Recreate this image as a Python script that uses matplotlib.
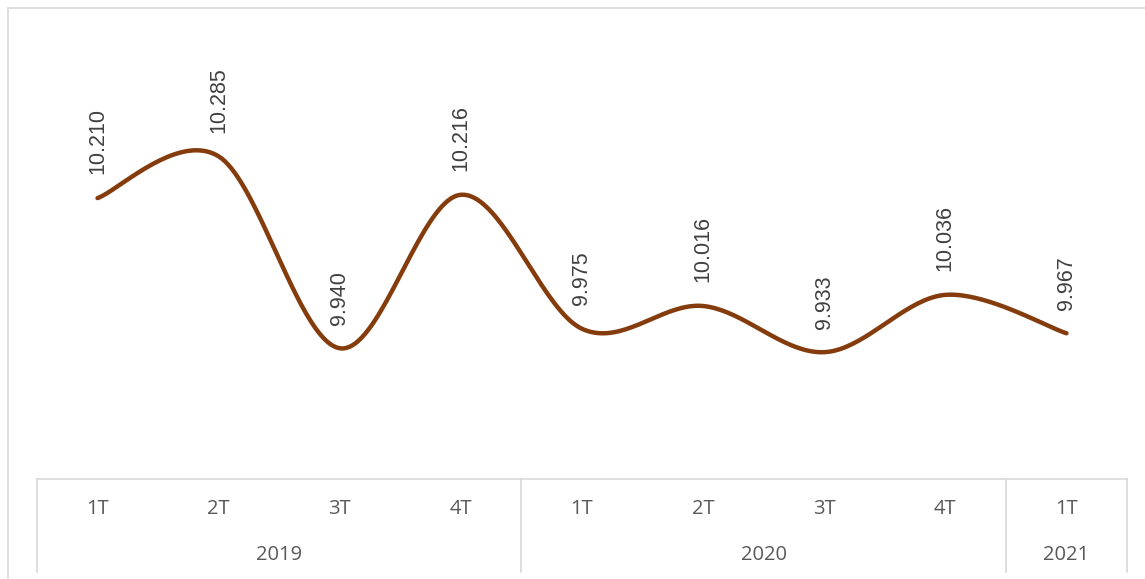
import numpy as np
import matplotlib.pyplot as plt
from matplotlib.lines import Line2D

quarters = ["1T", "2T", "3T", "4T", "1T", "2T", "3T", "4T", "1T"]
years = ["2019", "2020", "2021"]
year_spans = [(0, 3), (4, 7), (8, 8)]
values = [10.210, 10.285, 9.940, 10.216, 9.975, 10.016, 9.933, 10.036, 9.967]
labels = ["10.210", "10.285", "9.940", "10.216", "9.975", "10.016", "9.933", "10.036", "9.967"]

line_color = "#843C0C"
grid_color = "#D9D9D9"
text_color = "#595959"


def smooth(x, y, n=40):
    # Excel-style smoothed line: Catmull-Rom through the points as cubic Beziers
    x = np.asarray(x, float)
    y = np.asarray(y, float)
    px = np.concatenate([[x[0]], x, [x[-1]]])
    py = np.concatenate([[y[0]], y, [y[-1]]])
    xs, ys = [], []
    t = np.linspace(0, 1, n)
    for i in range(len(x) - 1):
        p0 = np.array([px[i + 1], py[i + 1]])
        p3 = np.array([px[i + 2], py[i + 2]])
        p1 = p0 + (np.array([px[i + 2], py[i + 2]]) - np.array([px[i], py[i]])) / 6
        p2 = p3 - (np.array([px[i + 3], py[i + 3]]) - np.array([px[i + 1], py[i + 1]])) / 6
        b = ((1 - t) ** 3)[:, None] * p0 + (3 * (1 - t) ** 2 * t)[:, None] * p1 \
            + (3 * (1 - t) * t ** 2)[:, None] * p2 + (t ** 3)[:, None] * p3
        xs.extend(b[:, 0])
        ys.extend(b[:, 1])
    return np.array(xs), np.array(ys)


fig = plt.figure(figsize=(11.45, 5.79), dpi=100)
ax = fig.add_axes([37 / 1145, 1 - 479 / 579, 1090 / 1145, 445 / 579])

x = np.arange(len(values))
sx, sy = smooth(x, values)
ax.plot(sx, sy, color=line_color, lw=3.2, solid_capstyle="round")

for xi, v, lab in zip(x, values, labels):
    ax.annotate(lab, (xi, v), xytext=(0, 17), textcoords="offset points",
                rotation=90, ha="center", va="bottom", fontsize=15.5,
                color="#404040", family="Liberation Sans")

ax.set_xlim(-0.5, len(values) - 0.5)
ax.set_ylim(9.705, 10.505)
ax.set_xticks([])
ax.set_yticks([])
for s in ["top", "left", "right"]:
    ax.spines[s].set_visible(False)
ax.spines["bottom"].set_color(grid_color)
ax.spines["bottom"].set_linewidth(1.2)

trans = ax.get_xaxis_transform()
# axes height is 445 px, so offsets below are px / 445
for xi, q in zip(x, quarters):
    ax.text(xi, -30 / 445, q, transform=trans, ha="center", va="center",
            fontsize=14.5, color=text_color, family="Open Sans")
for yr, (a, b) in zip(years, year_spans):
    ax.text((a + b) / 2, -76 / 445, yr, transform=trans, ha="center", va="center",
            fontsize=14.5, color=text_color, family="Open Sans")

for xs in [-0.5, 3.5, 7.5, 8.5]:
    ax.plot([xs, xs], [0, -93 / 445], transform=trans, color=grid_color,
            lw=1.2, clip_on=False)

# chart frame
fig.add_artist(Line2D([8 / 1145, 8 / 1145], [0, 1 - 8 / 579], color=grid_color, lw=1.2))
fig.add_artist(Line2D([8 / 1145, 1], [1 - 8 / 579, 1 - 8 / 579], color=grid_color, lw=1.2))

fig.savefig("out.png", dpi=100)
